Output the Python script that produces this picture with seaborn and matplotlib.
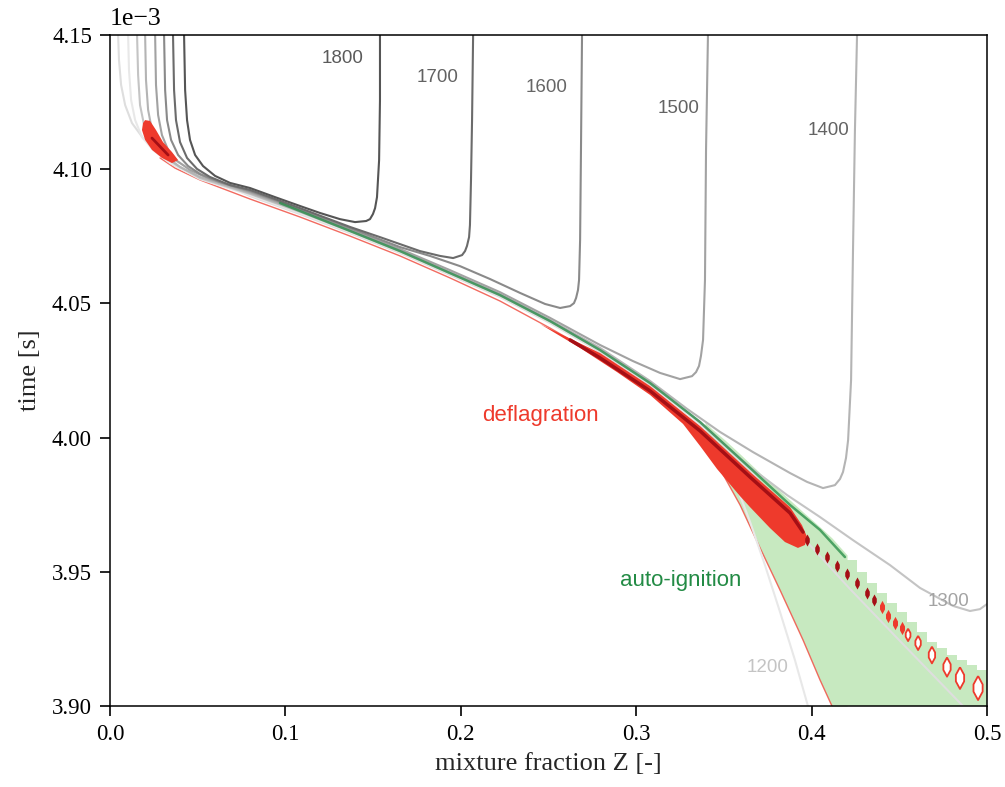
import numpy as np
import matplotlib
matplotlib.use("Agg")
import matplotlib.pyplot as plt
import seaborn as sns

# ---------------- data (Z [-], time [ms]) ----------------
z_1800 = [0.0422, 0.0428, 0.0439, 0.0456, 0.0485, 0.0530, 0.0599, 0.0684, 0.0798, 0.0941, 0.1083, 0.1197,
          0.1311, 0.1397, 0.1460, 0.1482, 0.1499, 0.1511, 0.1522, 0.1534, 0.1539, 0.1539]
t_1800 = [4.1500, 4.1295, 4.1183, 4.1109, 4.1053, 4.1012, 4.0975, 4.0949, 4.0930, 4.0896, 4.0863, 4.0837,
          4.0814, 4.0803, 4.0807, 4.0814, 4.0833, 4.0855, 4.0896, 4.1034, 4.1258, 4.1500]

z_1700 = [0.0359, 0.0365, 0.0376, 0.0399, 0.0439, 0.0496, 0.0570, 0.0684, 0.0798, 0.1083, 0.1368, 0.1539,
          0.1653, 0.1767, 0.1881, 0.1956, 0.2007, 0.2024, 0.2035, 0.2047, 0.2052, 0.2058, 0.2064, 0.2070]
t_1700 = [4.1500, 4.1295, 4.1183, 4.1101, 4.1042, 4.1001, 4.0971, 4.0941, 4.0923, 4.0855, 4.0785, 4.0747,
          4.0721, 4.0695, 4.0677, 4.0669, 4.0680, 4.0695, 4.0714, 4.0747, 4.0792, 4.0960, 4.1183, 4.1500]

z_1600 = [0.0308, 0.0314, 0.0325, 0.0348, 0.0388, 0.0445, 0.0513, 0.0627, 0.0798, 0.1083, 0.1368, 0.1653,
          0.1824, 0.1995, 0.2166, 0.2338, 0.2480, 0.2566, 0.2623, 0.2645, 0.2657, 0.2668, 0.2674, 0.2680,
          0.2685, 0.2691]
t_1600 = [4.1500, 4.1295, 4.1183, 4.1109, 4.1053, 4.1012, 4.0982, 4.0952, 4.0919, 4.0852, 4.0781, 4.0710,
          4.0677, 4.0639, 4.0591, 4.0539, 4.0498, 4.0483, 4.0490, 4.0501, 4.0520, 4.0550, 4.0587, 4.0736,
          4.1072, 4.1500]

z_1500 = [0.0257, 0.0262, 0.0274, 0.0296, 0.0331, 0.0382, 0.0456, 0.0570, 0.0798, 0.1083, 0.1368, 0.1653,
          0.1938, 0.2223, 0.2509, 0.2794, 0.2982, 0.3136, 0.3250, 0.3318, 0.3341, 0.3358, 0.3369, 0.3381,
          0.3392, 0.3398, 0.3409]
t_1500 = [4.1500, 4.1314, 4.1202, 4.1127, 4.1072, 4.1031, 4.0997, 4.0963, 4.0915, 4.0848, 4.0777, 4.0703,
          4.0624, 4.0542, 4.0446, 4.0345, 4.0285, 4.0241, 4.0218, 4.0229, 4.0244, 4.0267, 4.0304, 4.0364,
          4.0587, 4.1072, 4.1500]

z_1400 = [0.0200, 0.0205, 0.0217, 0.0239, 0.0274, 0.0325, 0.0399, 0.0513, 0.0798, 0.1083, 0.1368, 0.1653,
          0.1938, 0.2223, 0.2509, 0.2794, 0.3079, 0.3290, 0.3478, 0.3666, 0.3877, 0.3974, 0.4065, 0.4133,
          0.4162, 0.4179, 0.4196, 0.4208, 0.4225, 0.4236, 0.4247, 0.4259]
t_1400 = [4.1500, 4.1332, 4.1221, 4.1146, 4.1090, 4.1045, 4.1008, 4.0971, 4.0911, 4.0844, 4.0773, 4.0699,
          4.0617, 4.0535, 4.0438, 4.0334, 4.0211, 4.0107, 4.0021, 3.9946, 3.9868, 3.9835, 3.9812, 3.9823,
          3.9846, 3.9872, 3.9924, 3.9991, 4.0215, 4.0699, 4.1146, 4.1500]

z_1300 = [0.0154, 0.0160, 0.0171, 0.0194, 0.0228, 0.0285, 0.0371, 0.0513, 0.0798, 0.1083, 0.1368, 0.1653,
          0.1938, 0.2223, 0.2509, 0.2794, 0.3079, 0.3364, 0.3649, 0.3860, 0.4048, 0.4236, 0.4447, 0.4618,
          0.4806, 0.4903, 0.4960, 0.5000]
t_1300 = [4.1500, 4.1351, 4.1239, 4.1165, 4.1109, 4.1060, 4.1019, 4.0967, 4.0908, 4.0841, 4.0770, 4.0695,
          4.0613, 4.0531, 4.0434, 4.0326, 4.0203, 4.0058, 3.9890, 3.9786, 3.9704, 3.9618, 3.9525, 3.9440,
          3.9373, 3.9354, 3.9361, 3.9380]

z_1200 = [0.0103, 0.0108, 0.0120, 0.0143, 0.0182, 0.0245, 0.0342, 0.0513, 0.0798, 0.1083, 0.1368, 0.1653,
          0.1938, 0.2223, 0.2509, 0.2794, 0.3079, 0.3307, 0.3421, 0.3506, 0.3580, 0.3649, 0.3734, 0.3820,
          0.3905, 0.3979]
t_1200 = [4.1500, 4.1370, 4.1258, 4.1183, 4.1120, 4.1072, 4.1023, 4.0963, 4.0904, 4.0837, 4.0766, 4.0692,
          4.0610, 4.0528, 4.0431, 4.0323, 4.0200, 4.0080, 4.0002, 3.9909, 3.9805, 3.9686, 3.9525, 3.9350,
          3.9171, 3.9000]

z_1100 = [0.0046, 0.0051, 0.0063, 0.0086, 0.0125, 0.0188, 0.0285, 0.0428, 0.0627, 0.0798, 0.1083, 0.1368,
          0.1653, 0.1938, 0.2223, 0.2509, 0.2794, 0.3079, 0.3364, 0.3649, 0.3877, 0.3974, 0.4219, 0.4504, 0.4863]
t_1100 = [4.1500, 4.1407, 4.1314, 4.1239, 4.1172, 4.1116, 4.1064, 4.1012, 4.0952, 4.0900, 4.0833, 4.0762,
          4.0688, 4.0606, 4.0524, 4.0427, 4.0319, 4.0196, 4.0051, 3.9879, 3.9700, 3.9611, 3.9436, 3.9242, 3.9000]

# isotherm labels
label_levels = [1800, 1700, 1600, 1500, 1400, 1300, 1200]
label_z = [0.1328, 0.1870, 0.2491, 0.3244, 0.4099, 0.4778, 0.3751]
label_t = [4.1411, 4.1340, 4.1303, 4.1228, 4.1146, 3.9391, 3.9142]

# red front (boundary of the reaction zone)
front_z = [0.0285, 0.0371, 0.0513, 0.0798, 0.1083, 0.1368, 0.1653, 0.1938, 0.2223, 0.2509, 0.2794, 0.3079,
           0.3267, 0.3392, 0.3432, 0.3506, 0.3592, 0.3706, 0.3820, 0.3951, 0.4048, 0.4116]
front_t = [4.1042, 4.1004, 4.0960, 4.0889, 4.0822, 4.0751, 4.0677, 4.0595, 4.0509, 4.0408, 4.0300, 4.0170,
           4.0066, 3.9972, 3.9935, 3.9850, 3.9749, 3.9589, 3.9432, 3.9246, 3.9097, 3.9000]

# auto-ignition region (light green)
greenA_z = [0.3392, 0.3432, 0.3506, 0.3592, 0.3706, 0.3820, 0.3951, 0.4048, 0.4116, 0.4202]
greenA_lo = [3.9972, 3.9935, 3.9850, 3.9749, 3.9589, 3.9432, 3.9246, 3.9097, 3.9000, 3.9000]
greenA_hi = [4.0058, 4.0032, 3.9991, 3.9939, 3.9868, 3.9801, 3.9723, 3.9667, 3.9626, 3.9563]
greenB_z = [0.4202, 0.4259, 0.4316, 0.4373, 0.4430, 0.4487, 0.4544, 0.4601, 0.4658, 0.4715, 0.4772,
            0.4829, 0.4886, 0.4943, 0.5000]
greenB_hi = [3.9544, 3.9499, 3.9458, 3.9421, 3.9384, 3.9350, 3.9313, 3.9275, 3.9238, 3.9216, 3.9190,
             3.9171, 3.9153, 3.9134, 3.9097]
t_floor = 3.90

# auto-ignition strip (dark green)
agreen_z = [0.0969, 0.1368, 0.1653, 0.1938, 0.2223, 0.2509, 0.2794, 0.3079, 0.3364, 0.3649, 0.3877, 0.4048, 0.4190]
agreen_t = [4.0874, 4.0770, 4.0695, 4.0613, 4.0531, 4.0434, 4.0326, 4.0203, 4.0058, 3.9887, 3.9749, 3.9656, 3.9555]

# deflagration region (red)
blob_z = [0.2452, 0.2794, 0.3079, 0.3364, 0.3649, 0.3877, 0.3945, 0.3974, 0.3962, 0.3922, 0.3848, 0.3763,
          0.3649, 0.3592, 0.3461, 0.3364, 0.3267, 0.3079, 0.2891, 0.2680]
blob_t = [4.0423, 4.0315, 4.0192, 4.0043, 3.9872, 3.9741, 3.9674, 3.9630, 3.9600, 3.9589, 3.9611, 3.9663,
          3.9741, 3.9782, 3.9883, 3.9969, 4.0051, 4.0159, 4.0244, 4.0334]
hook_z = [0.0200, 0.0228, 0.0262, 0.0302, 0.0353, 0.0388, 0.0353, 0.0296, 0.0239, 0.0200, 0.0182, 0.0188]
hook_t = [4.1183, 4.1180, 4.1146, 4.1101, 4.1064, 4.1034, 4.1023, 4.1042, 4.1072, 4.1109, 4.1146, 4.1172]
core_z = [0.2623, 0.2794, 0.3079, 0.3364, 0.3649, 0.3877, 0.3951]
core_t = [4.0364, 4.0297, 4.0174, 4.0025, 3.9853, 3.9719, 3.9648]
hookcore_z = [0.0239, 0.0331]
hookcore_t = [4.1116, 4.1053]

# isolated pockets along the front
dk_z = [0.3974, 0.4031, 0.4088, 0.4145, 0.4202, 0.4259, 0.4316, 0.4356]
dk_t = [3.9618, 3.9585, 3.9555, 3.9522, 3.9492, 3.9458, 3.9421, 3.9395]
rd_z = [0.4401, 0.4436, 0.4475, 0.4515]
rd_t = [3.9369, 3.9335, 3.9309, 3.9291]
ho_z = [0.4550, 0.4607, 0.4686, 0.4772, 0.4846, 0.4949]
ho_t = [3.9265, 3.9235, 3.9190, 3.9145, 3.9104, 3.9067]
ho_size = [80, 105, 145, 190, 245, 300]

# ---------------- styling ----------------
sns.set_theme(style="ticks")
plt.rcParams["font.family"] = ["Liberation Serif", "DejaVu Serif"]
plt.rcParams["axes.formatter.use_mathtext"] = False

RED = "#ee3a2c"
DKRED = "#a50f15"
DKGREEN = "#238b45"
LTGREEN = "#c7e9c0"
iso_colors = {1800: "#555555", 1700: "#6b6b6b", 1600: "#8a8a8a", 1500: "#a2a2a2",
              1400: "#b4b4b4", 1300: "#c4c4c4", 1200: "#e8e8e8", 1100: "#dedede"}
label_colors = {1800: "#5a5a5a", 1700: "#626262", 1600: "#666666", 1500: "#636363",
                1400: "#636363", 1300: "#a3a3a3", 1200: "#c4c4c4"}
SANS = ["Liberation Sans", "DejaVu Sans"]

fig = plt.figure(figsize=(10.05, 7.87), dpi=100)
ax = fig.add_axes([0.1095, 0.1029, 0.8726, 0.8526])

ms = 1e-3

# light green auto-ignition region
ax.fill_between(greenA_z, np.array(greenA_lo) * ms, np.array(greenA_hi) * ms, color=LTGREEN, lw=0, zorder=1)
ax.fill_between(greenB_z, t_floor * ms, np.array(greenB_hi) * ms, step="post", color=LTGREEN, lw=0, zorder=1)

# red front line
sns.lineplot(x=front_z, y=np.array(front_t) * ms, sort=False, estimator=None, color=RED, lw=1.0,
             alpha=0.75, ax=ax, zorder=2)

# isotherms
iso = {1100: (z_1100, t_1100), 1200: (z_1200, t_1200), 1300: (z_1300, t_1300), 1400: (z_1400, t_1400),
       1500: (z_1500, t_1500), 1600: (z_1600, t_1600), 1700: (z_1700, t_1700), 1800: (z_1800, t_1800)}
for lev in [1100, 1200, 1300, 1400, 1500, 1600, 1700, 1800]:
    zz, tt = iso[lev]
    sns.lineplot(x=zz, y=np.array(tt) * ms, sort=False, estimator=None, color=iso_colors[lev],
                 lw=1.5, ax=ax, zorder=2.5)

# dark green strip
sns.lineplot(x=agreen_z, y=np.array(agreen_t) * ms, sort=False, estimator=None, color=DKGREEN, lw=1.8,
             alpha=0.75, ax=ax, zorder=2.6)

# deflagration region
ax.fill(blob_z, np.array(blob_t) * ms, color=RED, lw=0, zorder=3)
ax.fill(hook_z, np.array(hook_t) * ms, color=RED, lw=0, zorder=3)
sns.lineplot(x=core_z, y=np.array(core_t) * ms, sort=False, estimator=None, color=DKRED, lw=2.5,
             ax=ax, zorder=3.5)
sns.lineplot(x=hookcore_z, y=np.array(hookcore_t) * ms, sort=False, estimator=None, color=DKRED, lw=2.0,
             ax=ax, zorder=3.5)

# pockets
diamond = [(0, 1), (0.38, 0.3), (0.38, -0.3), (0, -1), (-0.38, -0.3), (-0.38, 0.3), (0, 1)]
ax.scatter(dk_z, np.array(dk_t) * ms, s=75, marker=diamond, color=DKRED, lw=0, zorder=4)
ax.scatter(rd_z, np.array(rd_t) * ms, s=90, marker=diamond, color=RED, lw=0, zorder=4)
ax.scatter(ho_z, np.array(ho_t) * ms, s=ho_size, marker=diamond, facecolor="white", edgecolor=RED,
           lw=1.3, zorder=4)

# isotherm labels
for lev, zl, tl in zip(label_levels, label_z, label_t):
    ax.text(zl, tl * ms, str(lev), color=label_colors[lev], fontsize=13.5, ha="center", va="center",
            family=SANS, zorder=5)

ax.text(0.2452, 4.0084 * ms, "deflagration", color=RED, fontsize=16, ha="center", va="center",
        family=SANS, zorder=5)
ax.text(0.3255, 3.9466 * ms, "auto-ignition", color=DKGREEN, fontsize=16, ha="center", va="center",
        family=SANS, zorder=5)

# axes
ax.set_xlim(0.0, 0.5)
ax.set_ylim(3.90e-3, 4.15e-3)
ax.set_xticks([0.0, 0.1, 0.2, 0.3, 0.4, 0.5])
ax.set_yticks([3.90e-3, 3.95e-3, 4.00e-3, 4.05e-3, 4.10e-3, 4.15e-3])
ax.ticklabel_format(axis="y", style="sci", scilimits=(0, 0), useMathText=False)
ax.yaxis.OFFSETTEXTPAD = 7
ax.yaxis.get_offset_text().set_fontsize(18.5)
ax.tick_params(axis="both", which="major", direction="out", length=7, width=1.2, labelsize=16.5,
               pad=6, color="black", labelcolor="black")
for sp in ax.spines.values():
    sp.set_visible(True)
    sp.set_color("black")
    sp.set_linewidth(1.1)
ax.set_xlabel("mixture fraction Z [-]", fontsize=19, labelpad=6)
ax.set_ylabel("time [s]", fontsize=19, labelpad=8)
ax.set_facecolor("white")
fig.patch.set_facecolor("white")

fig.savefig("out.png", dpi=100)
